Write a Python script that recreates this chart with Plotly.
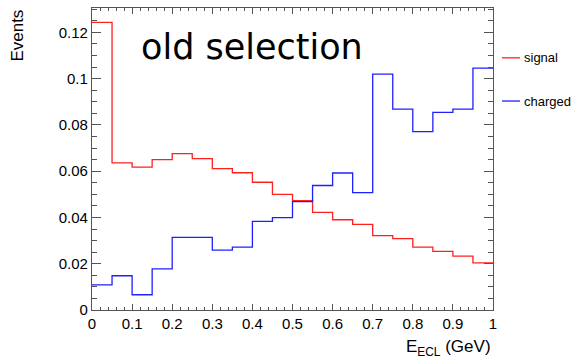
import plotly.graph_objects as go

bin_edges = [round(i * 0.05, 2) for i in range(21)]
signal = [0.1243, 0.0636, 0.0617, 0.0650, 0.0676, 0.0654, 0.0611, 0.0593, 0.0552, 0.0500,
          0.0473, 0.0422, 0.0390, 0.0370, 0.0321, 0.0308, 0.0272, 0.0253, 0.0233, 0.0204]
charged = [0.0109, 0.0148, 0.0066, 0.0178, 0.0314, 0.0314, 0.0259, 0.0272, 0.0383, 0.0399,
           0.0468, 0.0538, 0.0592, 0.0507, 0.1019, 0.0868, 0.0771, 0.0854, 0.0868, 0.1045]
series_names = ["signal", "charged"]
series_colors = ["#ff2020", "#2020ff"]
x_ticks = [0, 0.1, 0.2, 0.3, 0.4, 0.5, 0.6, 0.7, 0.8, 0.9, 1]
y_ticks = [0, 0.02, 0.04, 0.06, 0.08, 0.1, 0.12]

fig = go.Figure()
for name, vals, col in zip(series_names, [signal, charged], series_colors):
    xs = bin_edges
    ys = vals + [vals[-1]]
    fig.add_trace(go.Scatter(x=xs, y=ys, mode="lines", line=dict(color=col, width=1.3, shape="hv"),
                             name=name, showlegend=False))

axis_font = dict(family="Liberation Sans, Arial, sans-serif", size=15, color="black")
fig.update_layout(
    width=573, height=362,
    margin=dict(l=92, r=80, t=8, b=52),
    plot_bgcolor="white", paper_bgcolor="white",
    xaxis=dict(range=[0, 1], tickvals=x_ticks, ticktext=[("%g" % v) for v in x_ticks],
               ticks="inside", ticklen=6, tickcolor="#555", mirror="allticks",
               showline=True, linecolor="#555", linewidth=1.2, showgrid=False, zeroline=False,
               tickfont=axis_font,
               minor=dict(dtick=0.02, ticks="inside", ticklen=3, tickcolor="#555", showgrid=False)),
    yaxis=dict(range=[0, 0.1305], tickvals=y_ticks, ticktext=[("%g" % v) for v in y_ticks],
               ticks="inside", ticklen=9, tickcolor="#555", mirror="allticks",
               showline=True, linecolor="#555", linewidth=1.2, showgrid=False, zeroline=False,
               tickfont=axis_font,
               minor=dict(dtick=0.005, ticks="inside", ticklen=5, tickcolor="#555", showgrid=False)),
)

# title-like annotation
fig.add_annotation(text="old selection", xref="paper", yref="paper", x=0.118, y=0.872,
                   xanchor="left", yanchor="middle", showarrow=False,
                   font=dict(family="DejaVu Sans, sans-serif", size=35, color="black"))
# axis titles
fig.add_annotation(text="Events", xref="paper", yref="paper", x=-0.188, y=1.0,
                   xanchor="center", yanchor="top", textangle=-90, showarrow=False,
                   font=dict(family="Liberation Sans, Arial, sans-serif", size=17, color="black"))
fig.add_annotation(text="E<sub>ECL</sub> (GeV)", xref="paper", yref="paper", x=1.0, y=-0.125,
                   xanchor="right", yanchor="middle", showarrow=False,
                   font=dict(family="Liberation Sans, Arial, sans-serif", size=17, color="black"))

# legend (manual)
leg_y = [0.835, 0.692]
for name, col, yy in zip(series_names, series_colors, leg_y):
    fig.add_shape(type="line", xref="paper", yref="paper", x0=1.0224, x1=1.0673, y0=yy, y1=yy,
                  line=dict(color=col, width=1.3))
    fig.add_annotation(text=name, xref="paper", yref="paper", x=1.072, y=yy,
                       xanchor="left", yanchor="middle", showarrow=False,
                       font=dict(family="Liberation Sans, Arial, sans-serif", size=13, color="black"))

fig.write_html("out.html")
